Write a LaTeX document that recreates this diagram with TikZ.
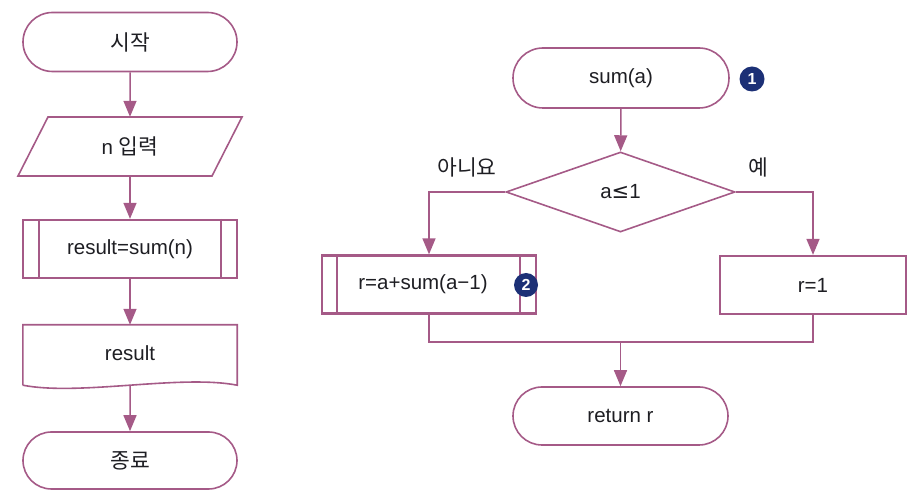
\documentclass[tikz,border=0pt]{standalone}
\usepackage{fontspec}
\setmainfont{Liberation Sans}
\newfontfamily\kr{Noto Sans CJK KR}
\newfontfamily\symf{DejaVu Sans}
\usetikzlibrary{shapes.misc,shapes.geometric,arrows.meta,calc}
\definecolor{lc}{RGB}{165,90,135}
\definecolor{tc}{RGB}{30,30,35}
\definecolor{navy}{RGB}{28,48,118}
\begin{document}
\begin{tikzpicture}[x=1pt,y=-1pt,
  every node/.style={text=tc,font=\fontsize{20.5}{23}\selectfont,inner sep=0pt},
  term/.style={rounded rectangle,draw=lc,line width=1.6pt,minimum width=214pt,minimum height=59pt},
  proc/.style={rectangle,draw=lc,line width=2.3pt,minimum height=58pt},
  plain/.style={rectangle,minimum width=214pt,minimum height=59pt},
  dec/.style={diamond,draw=lc,line width=1.6pt,minimum width=229pt,minimum height=80pt},
  outl/.style={draw=lc,line width=1.6pt,line join=miter},
  inner/.style={draw=lc,line width=2pt},
  conn/.style={draw=lc,line width=1.5pt},
  arr/.style={conn,-{Triangle[width=13pt,length=16pt]}},
  numc/.style={circle,fill=navy,text=white,minimum size=25pt,font=\fontsize{16}{16}\selectfont\bfseries},
  kfont/.style={font=\kr\fontsize{21.5}{23}\selectfont}
]
\useasboundingbox (0,0) rectangle (914,502);
% ---------- left column ----------
\node[term,kfont] (start) at (130,42) {시작};
\node[plain] (inp) at (130,146.5) {n {\kr\fontsize{21.5}{23}\selectfont 입력}};
\draw[outl] (48,117) -- (242,117) -- (212,176) -- (18,176) -- cycle;
\node[proc,minimum width=214pt] (call) at (130,249) {result=sum(n)};
\draw[inner] ([xshift=17pt]call.north west) -- ([xshift=17pt]call.south west);
\draw[inner] ([xshift=-17pt]call.north east) -- ([xshift=-17pt]call.south east);
\node[plain,minimum height=60pt] (out) at (130,355) {};
\node at (130,353) {result};
\draw[outl] (out.south west) -- (out.north west) -- (out.north east) -- (out.south east)
  .. controls ($(out.south east)+(-57,-11)$) and ($(out.south west)+(57,11)$) .. (out.south west);
\node[term,kfont,minimum height=57pt] (end) at (130,460.5) {종료};
\draw[arr] (start) -- (inp);
\draw[arr] (inp) -- (call);
\draw[arr] (call) -- (out);
\draw[arr] (out.south) -- (end);
% ---------- right part ----------
\node[term,minimum width=216pt,minimum height=60pt] (sum) at (621,78) {sum(a)};
\node[numc] (n1) at (752,79) {1};
\node[dec] (cond) at (620.5,192) {a{\symf\fontsize{21}{23}\selectfont ≤}1};
\node[kfont] (no) at (467,167) {아니요};
\node[kfont] (yes) at (758,167) {예};
\node[proc,minimum width=214pt] (rec) at (429,284.5) {r=a+sum(a−1)\hspace*{12pt}};
\draw[inner] ([xshift=16pt]rec.north west) -- ([xshift=16pt]rec.south west);
\draw[inner] ([xshift=-17pt]rec.north east) -- ([xshift=-17pt]rec.south east);
\node[numc,minimum size=24pt] (n2) at (526,285) {2};
\node[proc,minimum width=186pt] (r1) at (813,285) {r=1};
\node[term,minimum width=215pt,minimum height=58pt] (ret) at (620.5,416) {return r};
\coordinate (m) at (620.5,342);
\draw[arr] (sum) -- (cond);
\draw[arr] (cond.west) -| (rec.north);
\draw[arr] (cond.east) -| (r1.north);
\draw[conn] (rec.south) |- (m) -| (r1.south);
\draw[arr] (m) -- (ret.north);
\end{tikzpicture}
\end{document}
